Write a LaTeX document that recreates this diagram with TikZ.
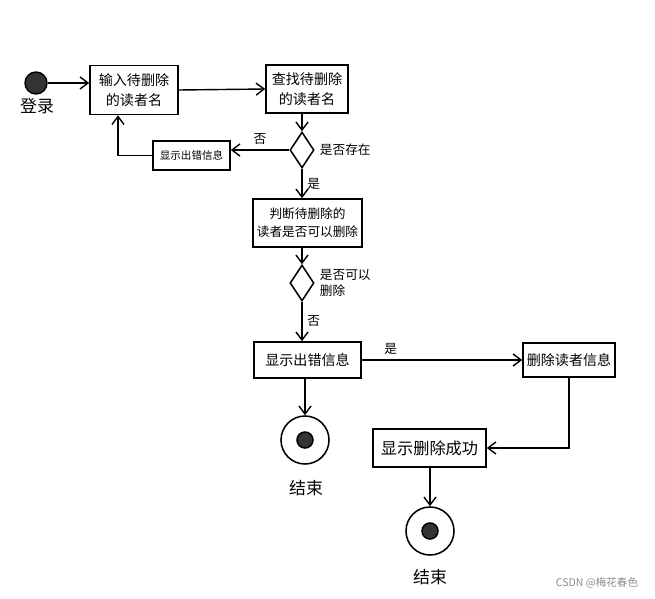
\documentclass[tikz,border=0pt]{standalone}
\usepackage{fontspec}
\setmainfont{Noto Sans CJK SC}
\usepackage{tikz}
\usetikzlibrary{positioning, arrows.meta, shapes.geometric, calc}

\begin{document}
\begin{tikzpicture}[
        x=0.025cm, y=-0.025cm,
        process/.style={rectangle, draw=black, line width=1.1pt, inner sep=2pt, align=center, font=\fontsize{10}{14}\selectfont},
        decision/.style={diamond, draw=black, line width=1.1pt, minimum width=0.6cm, minimum height=0.9cm, inner sep=0pt},
        startdot/.style={circle, draw=black, fill=black!80, line width=1pt, minimum size=0.55cm, inner sep=0pt},
        endmark/.style={circle, draw=black, line width=1.1pt, minimum size=1.2cm, inner sep=0pt,
            path picture={\filldraw[fill=black!80, draw=black] (path picture bounding box.center) circle (0.2cm);}},
        remark/.style={font=\fontsize{9}{11}\selectfont, align=left},
        caption/.style={font=\fontsize{12}{14}\selectfont},
        arrow/.style={line width=1pt, -{Straight Barb[length=2mm, width=3mm]}}
    ]

    \useasboundingbox (0,0) rectangle (655,598);

    % Nodes
    \node (Start) [startdot] at (36,83) {};
    \node [caption] at (37,106) {登录};
    \node (InputName) [process, minimum width=2.2cm, minimum height=1.225cm] at (134,90) {输入待删除\\的读者名};
    \node (FindName) [process, minimum width=2.05cm, minimum height=1.2cm] at (307,89) {查找待删除\\的读者名};
    \node (Exists) [decision] at (302,150) {};
    \node [remark, anchor=west] at (315,150) {是否存在};
    \node (ErrorMsg) [process, minimum width=1.925cm, minimum height=0.725cm, font=\fontsize{7.5}{9}\selectfont] at (191.5,155.5) {显示出错信息};

    \node (JudgeName) [process, minimum width=2.725cm, minimum height=1.2cm, font=\fontsize{9}{13}\selectfont] at (307.5,223) {判断待删除的\\读者是否可以删除};
    \node (CanDelete) [decision] at (302,283) {};
    \node [remark, anchor=west] at (315,283) {是否可以\\删除};
    \node (ErrorMsgTwo) [process, minimum width=2.675cm, minimum height=0.9cm] at (307.5,360) {显示出错信息};
    \node (End1) [endmark] at (305,440) {};
    \node [caption] at (306,488) {结束};

    % Delete Branch
    \node (DeleteInfo) [process, minimum width=2.3cm, minimum height=0.85cm] at (569,360) {删除读者信息};
    \node (ShowSuccess) [process, minimum width=2.825cm, minimum height=0.95cm, font=\fontsize{11.5}{14}\selectfont] at (429.5,448) {显示删除成功};
    \node (End2) [endmark] at (430,531) {};
    \node [caption] at (430,577) {结束};

    % Arrows
    \draw [arrow] (Start.east) -- (Start -| InputName.west);
    \draw [arrow] (InputName.east) -- (FindName.west);
    \draw [arrow] (Exists.north |- FindName.south) -- (Exists.north);
    \draw [arrow] (Exists.west) -- (Exists.west -| ErrorMsg.east) node [remark, midway, above] {否};
    \draw [arrow] (ErrorMsg.west) -| ([xshift=-0.4cm]InputName.south);
    \draw [arrow] (Exists.south) -- (Exists.south |- JudgeName.north) node [remark, midway, right] {是};
    \draw [arrow] (CanDelete.north |- JudgeName.south) -- (CanDelete.north);
    \draw [arrow] (CanDelete.south) -- (CanDelete.south |- ErrorMsgTwo.north) node [remark, midway, right] {否};
    \draw [arrow] (End1.north |- ErrorMsgTwo.south) -- (End1.north);

    % Delete Arrows
    \draw [arrow] (ErrorMsgTwo.east) -- (DeleteInfo.west) node [remark, pos=0.18, above] {是};
    \draw [arrow] (DeleteInfo.south) |- (ShowSuccess.east);
    \draw [arrow] (End2.north |- ShowSuccess.south) -- (End2.north);

    % Watermark
    \node [font=\fontsize{7.5}{9}\selectfont, text=black!45] at (597,583) {CSDN @梅花春色};

\end{tikzpicture}
\end{document}
